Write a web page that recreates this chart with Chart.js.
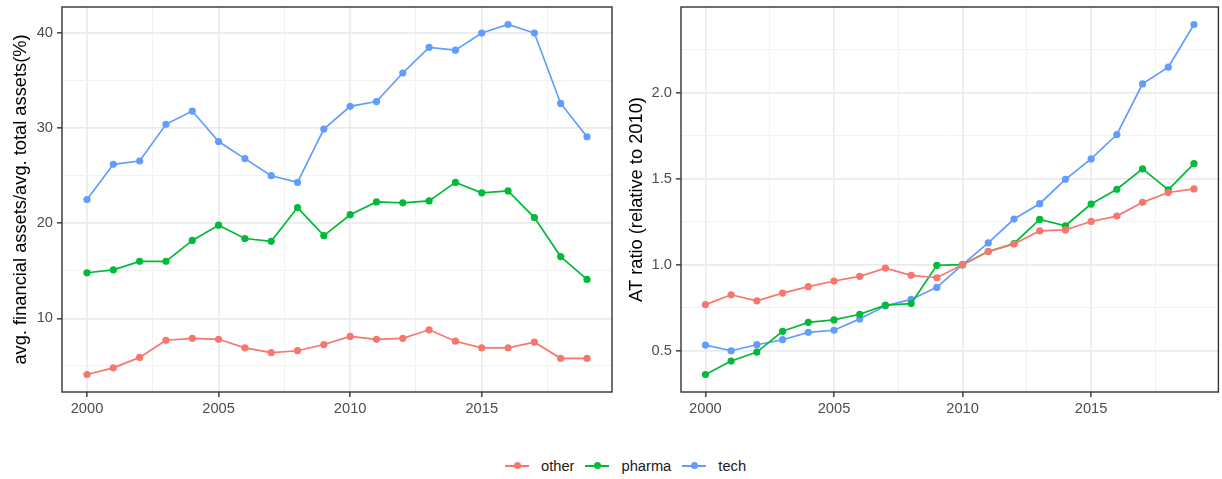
<!DOCTYPE html>
<html>
<head>
<meta charset="utf-8">
<script src="https://cdn.jsdelivr.net/npm/chart.js@4/dist/chart.umd.min.js"></script>
<style>
  html, body { margin: 0; padding: 0; background: #ffffff; }
  #wrap { position: relative; width: 1222px; height: 479px; overflow: hidden; font-family: "Liberation Sans", Arial, sans-serif; }
  #c1 { position: absolute; left: 0; top: 0; }
  #c2 { position: absolute; left: 620px; top: 0; }
  #legend { position: absolute; left: 505px; top: 456px; height: 20px; display: flex; align-items: center; font-size: 14.7px; color: #1a1a1a; white-space: nowrap; }
  .item { display: flex; align-items: center; margin-right: 11px; }
  .key { position: relative; width: 24px; height: 14px; margin-right: 12px; }
  .key .ln { position: absolute; left: 0; right: 0; top: 6px; height: 1.7px; }
  .key .pt { position: absolute; left: 8.5px; top: 3.4px; width: 7px; height: 7px; border-radius: 50%; }
</style>
</head>
<body>
<div id="wrap">
  <canvas id="c1" width="620" height="420"></canvas>
  <canvas id="c2" width="602" height="420"></canvas>
  <div id="legend"></div>
</div>
<script>
// Years shared by both panels
const years = [2000, 2001, 2002, 2003, 2004, 2005, 2006, 2007, 2008, 2009,
               2010, 2011, 2012, 2013, 2014, 2015, 2016, 2017, 2018, 2019];

// Panel 1: average financial assets as a share of average total assets (%)
const shareOther  = [4.1, 4.8, 5.9, 7.7, 7.9, 7.8, 6.9, 6.4, 6.6, 7.25,
                     8.1, 7.8, 7.9, 8.8, 7.6, 6.9, 6.9, 7.5, 5.8, 5.8];
const sharePharma = [14.8, 15.1, 16.0, 16.0, 18.2, 19.8, 18.4, 18.1, 21.65, 18.7,
                     20.9, 22.25, 22.15, 22.35, 24.3, 23.2, 23.4, 20.6, 16.5, 14.1];
const shareTech   = [22.5, 26.2, 26.55, 30.4, 31.8, 28.6, 26.8, 25.0, 24.3, 29.9,
                     32.3, 32.8, 35.8, 38.5, 38.2, 40.0, 40.9, 40.0, 32.6, 29.1];

// Panel 2: AT ratio indexed to 2010
const ratioOther  = [0.768, 0.825, 0.79, 0.835, 0.872, 0.905, 0.932, 0.98, 0.938, 0.924,
                     1.0, 1.076, 1.12, 1.196, 1.202, 1.251, 1.282, 1.362, 1.419, 1.44];
const ratioPharma = [0.362, 0.44, 0.492, 0.613, 0.665, 0.679, 0.712, 0.765, 0.774, 0.996,
                     1.0, 1.076, 1.123, 1.263, 1.226, 1.352, 1.438, 1.556, 1.434, 1.587];
const ratioTech   = [0.533, 0.5, 0.535, 0.564, 0.607, 0.619, 0.685, 0.761, 0.798, 0.868,
                     1.0, 1.126, 1.265, 1.354, 1.496, 1.614, 1.756, 2.05, 2.147, 2.395];

// Series names and tick labels
const seriesNames = ["other", "pharma", "tech"];
const seriesColors = ["#F8766D", "#00BA38", "#619CFF"];
const xMajor = [2000, 2005, 2010, 2015];
const xMinor = [2002.5, 2007.5, 2012.5, 2017.5];
const y1Major = [10, 20, 30, 40];
const y1Minor = [5, 15, 25, 35];
const y2Major = [0.5, 1.0, 1.5, 2.0];
const y2Minor = [0.75, 1.25, 1.75, 2.25];

const FONT = '"Liberation Sans", Arial, Helvetica, sans-serif';

function expand(vals, frac) {
  const lo = Math.min(...vals), hi = Math.max(...vals);
  const pad = (hi - lo) * frac;
  return [lo - pad, hi + pad];
}

function makeDatasets(seriesList) {
  return seriesList.map((vals, i) => ({
    label: seriesNames[i],
    data: years.map((yr, k) => ({ x: yr, y: vals[k] })),
    borderColor: seriesColors[i],
    backgroundColor: seriesColors[i],
    borderWidth: 1.7,
    pointRadius: 3.6,
    pointHoverRadius: 3.6,
    pointBorderWidth: 0,
    tension: 0
  }));
}

// panel border drawn around the whole plotting area
const panelBorder = {
  id: 'panelBorder',
  afterDraw(chart) {
    const a = chart.chartArea, ctx = chart.ctx;
    ctx.save();
    ctx.strokeStyle = '#333333';
    ctx.lineWidth = 1.4;
    ctx.strokeRect(a.left, a.top, a.right - a.left, a.bottom - a.top);
    ctx.restore();
  }
};

function gridStyle(majors) {
  const isMajor = c => majors.includes(c.tick && c.tick.value);
  return {
    color: c => isMajor(c) ? '#EBEBEB' : '#F2F2F2',
    lineWidth: c => isMajor(c) ? 1.7 : 1,
    tickColor: c => isMajor(c) ? '#333333' : 'rgba(0,0,0,0)',
    tickLength: 5,
    tickWidth: 1.4,
    drawTicks: true
  };
}

// fixed axis sizes, and no extra room reserved for the end labels
function fixSize(size, horizontal) {
  return s => {
    if (horizontal) s.height = size; else s.width = size;
    s.paddingTop = 0; s.paddingBottom = 0; s.paddingLeft = 0; s.paddingRight = 0;
  };
}

function buildChart(canvasId, seriesList, yMajor, yMinor, yTitle, yWidth, titlePad, rightPad, yFmt) {
  const allVals = [].concat(...seriesList);
  const [yMin, yMax] = expand(allVals, 0.05);
  const [xMin, xMax] = expand(years, 0.05);
  const xTicks = xMajor.concat(xMinor).sort((a, b) => a - b);
  const yTicks = yMajor.concat(yMinor).filter(v => v >= yMin && v <= yMax).sort((a, b) => a - b);
  return new Chart(document.getElementById(canvasId), {
    type: 'line',
    data: { datasets: makeDatasets(seriesList) },
    options: {
      responsive: false,
      animation: false,
      devicePixelRatio: 1,
      layout: { padding: { top: 7, right: rightPad, bottom: 0, left: 0 } },
      plugins: { legend: { display: false }, tooltip: { enabled: false } },
      scales: {
        x: {
          type: 'linear',
          min: xMin, max: xMax,
          afterBuildTicks: s => { s.ticks = xTicks.map(v => ({ value: v })); },
          afterFit: fixSize(28, true),
          grid: gridStyle(xMajor),
          border: { display: false },
          ticks: {
            autoSkip: false, maxRotation: 0, padding: 3,
            color: '#4D4D4D',
            font: { family: FONT, size: 14.7 },
            callback: v => xMajor.includes(v) ? String(v) : ''
          }
        },
        y: {
          type: 'linear',
          min: yMin, max: yMax,
          afterBuildTicks: s => { s.ticks = yTicks.map(v => ({ value: v })); },
          afterFit: fixSize(yWidth, false),
          grid: gridStyle(yMajor),
          border: { display: false },
          ticks: {
            autoSkip: false, padding: 4,
            color: '#4D4D4D',
            font: { family: FONT, size: 14.7 },
            callback: v => yMajor.includes(v) ? yFmt(v) : ''
          },
          title: {
            display: true, text: yTitle, color: '#000000',
            font: { family: FONT, size: 18.3 },
            padding: { top: titlePad, bottom: 0 }
          }
        }
      }
    },
    plugins: [panelBorder]
  });
}

buildChart('c1', [shareOther, sharePharma, shareTech], y1Major, y1Minor,
  'avg. financial assets/avg. total assets(%)', 62, 10, 8, v => String(v));
buildChart('c2', [ratioOther, ratioPharma, ratioTech], y2Major, y2Minor,
  'AT ratio (relative to 2010)', 61, 6, 2, v => v.toFixed(1));

// shared legend below both panels
const legend = document.getElementById('legend');
seriesNames.forEach((name, i) => {
  const item = document.createElement('div');
  item.className = 'item';
  item.innerHTML = '<span class="key"><span class="ln" style="background:' + seriesColors[i] +
    '"></span><span class="pt" style="background:' + seriesColors[i] + '"></span></span><span>' + name + '</span>';
  legend.appendChild(item);
});
</script>
</body>
</html>
